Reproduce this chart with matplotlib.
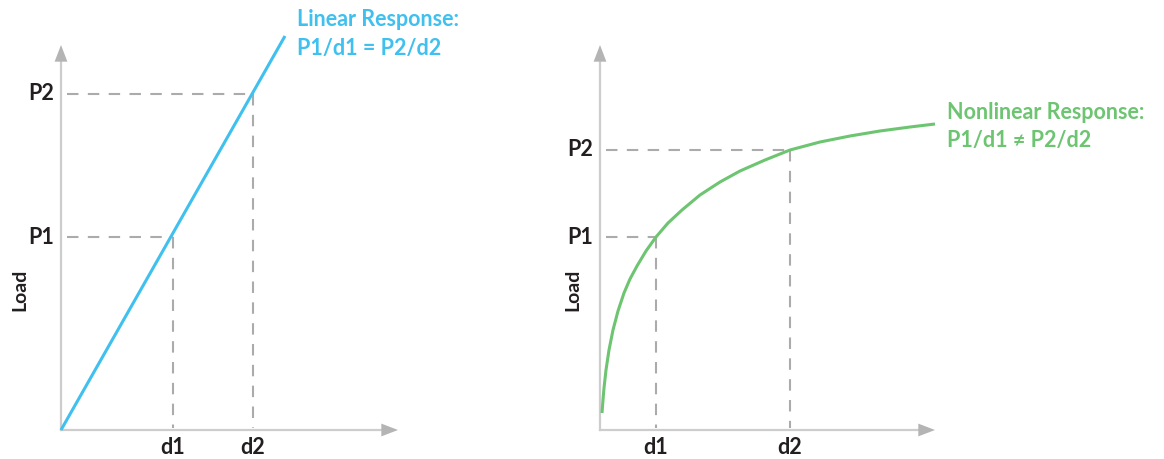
import numpy as np
import matplotlib
matplotlib.use('Agg')
import matplotlib.pyplot as plt

# values, in pixel-like units from each origin
d_lin = [112, 192]
P_lin = [193, 336]
lin_x = [0, 224]
lin_y = [0, 394]

d_non = [56, 190]
P_non = [193, 280]
non_x = [2, 3, 4, 6, 9, 13, 18, 24, 30, 37, 46, 56, 68, 82, 100, 120, 140, 165, 190, 220, 250, 280, 310, 335]
non_y = [17, 30, 42, 60, 80, 100, 119, 137, 151, 164, 179, 193, 207, 220, 235, 248, 259, 270, 280, 288, 294, 299, 303, 306]

d_labels = ['d1', 'd2']
P_labels = ['P1', 'P2']

blue = '#3fc0ef'
green = '#6dc471'
axis_col = '#cdcdcd'
arrow_col = '#b4b4b4'
dash_col = '#ababab'
txt_col = '#231f20'

plt.rcParams['font.family'] = ['Lato', 'DejaVu Sans']

W, H = 1164, 459
fig = plt.figure(figsize=(W / 100, H / 100), dpi=100)


def make_panel(x0, y0):
    # origin of panel at pixel (x0, y0) from top-left; 1 data unit = 1 pixel
    ax = fig.add_axes([x0 / W, (H - y0) / H, 500 / W, 440 / H])
    ax.set_xlim(0, 500)
    ax.set_ylim(0, 440)
    ax.axis('off')
    return ax


def draw_axes(ax, x_tip, y_tip):
    ax.plot([0, x_tip - 10], [0, 0], color=axis_col, lw=1.6, clip_on=False, zorder=1)
    ax.plot([0, 0], [0, y_tip - 10], color=axis_col, lw=1.6, clip_on=False, zorder=1)
    style = '-|>,head_length=0.6,head_width=0.23'
    ax.annotate('', xy=(x_tip, 0), xytext=(x_tip - 20, 0),
                arrowprops=dict(arrowstyle=style, color=arrow_col, lw=0,
                                mutation_scale=20, shrinkA=0, shrinkB=0))
    ax.annotate('', xy=(0, y_tip), xytext=(0, y_tip - 20),
                arrowprops=dict(arrowstyle=style, color=arrow_col, lw=0,
                                mutation_scale=20, shrinkA=0, shrinkB=0))


def draw_guides(ax, ds, Ps):
    for d, P, dl, pl in zip(ds, Ps, d_labels, P_labels):
        ax.plot([6, d], [P, P], color=dash_col, lw=1.5, dashes=(5.5, 4.5),
                clip_on=False, zorder=2)
        ax.plot([d, d], [P, 2], color=dash_col, lw=1.5, dashes=(5.5, 4.5),
                clip_on=False, zorder=2)
        ax.text(d, -18, dl, ha='center', va='center', fontsize=15.5,
                fontweight='bold', color=txt_col, clip_on=False)
        ax.text(-7, P, pl, ha='right', va='center', fontsize=15.5,
                fontweight='bold', color=txt_col, clip_on=False)


# left panel: linear
ax1 = make_panel(61, 430)
draw_axes(ax1, 337, 385)
draw_guides(ax1, d_lin, P_lin)
ax1.plot(lin_x, lin_y, color=blue, lw=2.2, solid_capstyle='butt', clip_on=False, zorder=3)
ax1.text(236, 404, 'Linear Response:', color=blue, fontsize=15.5, fontweight='bold',
         ha='left', va='baseline')
ax1.text(236, 375, 'P1/d1 = P2/d2', color=blue, fontsize=15.5, fontweight='bold',
         ha='left', va='baseline')
ax1.text(-41, 140, 'Load', rotation=90, ha='center', va='center', fontsize=14,
         fontweight='bold', color=txt_col)

# right panel: nonlinear
ax2 = make_panel(600, 430)
draw_axes(ax2, 335, 385)
draw_guides(ax2, d_non, P_non)
ax2.plot(non_x, non_y, color=green, lw=2.2, solid_capstyle='butt', clip_on=False, zorder=3)
ax2.text(347, 311, 'Nonlinear Response:', color=green, fontsize=15.5, fontweight='bold',
         ha='left', va='baseline')
ax2.text(347, 283, 'P1/d1 \u2260 P2/d2', color=green, fontsize=15.5, fontweight='bold',
         ha='left', va='baseline')
ax2.text(-27, 140, 'Load', rotation=90, ha='center', va='center', fontsize=14,
         fontweight='bold', color=txt_col)

fig.savefig('out.png', dpi=100, facecolor='white')
